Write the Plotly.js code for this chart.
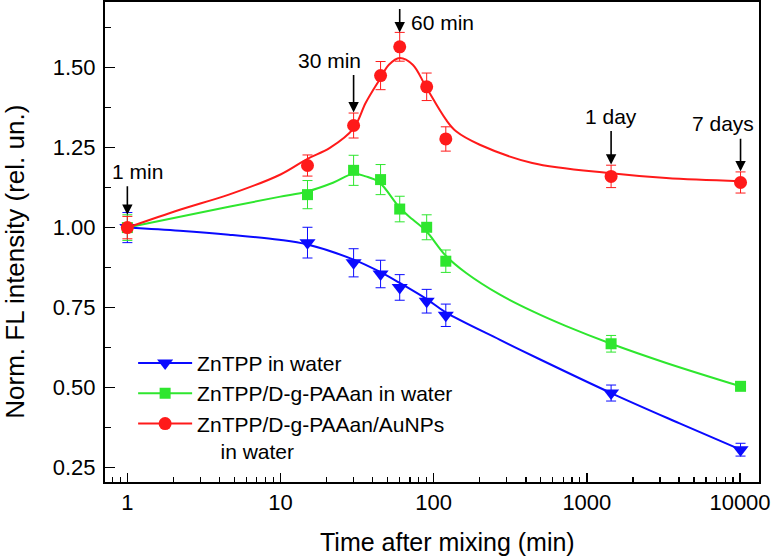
<!DOCTYPE html>
<html>
<head>
<meta charset="utf-8">
<script src="https://cdn.plot.ly/plotly-3.0.1.min.js"></script>
<style>
  html, body { margin: 0; padding: 0; background: #fff; }
  #chart { width: 774px; height: 559px; }
</style>
</head>
<body>
<div id="chart"></div>
<script>
// Measured points (time after mixing, min)
const times = [1, 15, 30, 45, 60, 90, 120, 1440, 10080];
const znWater = [1.00, 0.953, 0.890, 0.855, 0.813, 0.770, 0.726, 0.483, 0.306];
const znWaterErr = [0.047, 0.048, 0.044, 0.043, 0.040, 0.037, 0.035, 0.025, 0.020];
const znPaa = [1.00, 1.103, 1.179, 1.150, 1.058, 1.001, 0.895, 0.637, 0.504];
const znPaaErr = [0.040, 0.044, 0.047, 0.047, 0.040, 0.039, 0.035, 0.026, 0.010];
const znAu = [1.00, 1.194, 1.319, 1.475, 1.565, 1.440, 1.277, 1.160, 1.141];
const znAuErr = [0.035, 0.033, 0.039, 0.044, 0.045, 0.043, 0.038, 0.035, 0.033];

// Fitted curves
const fitWaterX = [1, 2.2, 4.6, 9.8, 15, 30, 44, 60, 91, 120, 269, 500, 1440, 4000, 10080];
const fitWaterY = [1.00, 0.990, 0.978, 0.962, 0.947, 0.900, 0.863, 0.827, 0.775, 0.735, 0.650, 0.587, 0.483, 0.389, 0.306];
const fitPaaX = [1, 4.6, 9.8, 15, 22, 30, 36, 44, 60, 73, 89, 120, 163, 269, 444, 733, 1440, 3300, 10080];
const fitPaaY = [1.00, 1.065, 1.096, 1.113, 1.140, 1.168, 1.160, 1.142, 1.062, 1.025, 0.990, 0.912, 0.858, 0.791, 0.738, 0.692, 0.637, 0.577, 0.504];
const fitAuX = [1, 2.2, 4.6, 10, 15, 21, 30, 36, 44, 51, 60, 73, 89, 120, 140, 200, 440, 1440, 3300, 10080];
const fitAuY = [1.00, 1.056, 1.103, 1.166, 1.215, 1.249, 1.310, 1.390, 1.460, 1.509, 1.530, 1.509, 1.440, 1.338, 1.301, 1.259, 1.202, 1.170, 1.155, 1.145];

const seriesNames = ['ZnTPP in water', 'ZnTPP/D-g-PAAan in water',
  'ZnTPP/D-g-PAAan/AuNPs<br>\u00a0\u00a0\u00a0 in water'];
const xTickVals = [1, 10, 100, 1000, 10000];
const xTickText = ['1', '10', '100', '1000', '10000'];

// Arrow labels: text, time, tip value, arrow length (px), text spot (log x, y)
const marks = [
  { text: '1 min', t: 1, tip: 1.04, len: 30, tx: 0.063, ty: 1.175 },
  { text: '30 min', t: 30, tip: 1.36, len: 39, tx: 1.318, ty: 1.522 },
  { text: '60 min', t: 60, tip: 1.61, len: 25, tx: 2.06, ty: 1.640 },
  { text: '1 day', t: 1440, tip: 1.197, len: 35, tx: 3.155, ty: 1.348 },
  { text: '7 days', t: 10080, tip: 1.176, len: 34, tx: 3.887, ty: 1.325 }
];

const FONT = 'Liberation Sans, Arial, Helvetica, sans-serif';
const BLUE = '#0a0aff';
const GREEN = '#2ee62e';
const RED = '#ff1a1a';

function fitTrace(x, y, color) {
    return { x, y, type: 'scatter', mode: 'lines', hoverinfo: 'skip',
        line: { color, width: 2, shape: 'spline', smoothing: 1 }, showlegend: false };
}

function pointTrace(y, err, color, symbol, size) {
    return {
        x: times, y, type: 'scatter', mode: 'markers', showlegend: false,
        marker: { color, symbol, size },
        error_y: { type: 'data', array: err, visible: true, color, thickness: 1, width: 5 }
    };
}

function legendTrace(name, color, symbol, size) {
    return { x: [null], y: [null], type: 'scatter', mode: 'lines+markers', name,
        line: { color, width: 2 }, marker: { color, symbol, size } };
}

const traces = [
    fitTrace(fitWaterX, fitWaterY, BLUE),
    pointTrace(znWater, znWaterErr, BLUE, 'triangle-down', 14),
    fitTrace(fitPaaX, fitPaaY, GREEN),
    pointTrace(znPaa, znPaaErr, GREEN, 'square', 11),
    fitTrace(fitAuX, fitAuY, RED),
    pointTrace(znAu, znAuErr, RED, 'circle', 13),
    legendTrace(seriesNames[0], BLUE, 'triangle-down', 14),
    legendTrace(seriesNames[1], GREEN, 'square', 11),
    legendTrace(seriesNames[2], RED, 'circle', 13)
];

// minor ticks for the log axis
const minorX = [];
for (let d = 0.1; d < 20000; d *= 10) {
    for (let k = 2; k <= 9; k++) minorX.push(d * k);
}

const annotations = [];
marks.forEach(m => {
    annotations.push({
        x: Math.log10(m.t), y: m.tip, xref: 'x', yref: 'y', text: '',
        showarrow: true, ax: 0, ay: -m.len, arrowhead: 2, arrowsize: 1.3,
        arrowwidth: 1.6, arrowcolor: '#000'
    });
    annotations.push({
        x: m.tx, y: m.ty, xref: 'x', yref: 'y', text: m.text, showarrow: false,
        font: { family: FONT, size: 21, color: '#000' }
    });
});

// axis titles (placed like the original figure)
annotations.push({
    xref: 'paper', yref: 'paper', x: 0.524, y: -0.124, xanchor: 'center', yanchor: 'middle',
    text: 'Time after mixing (min)', showarrow: false, font: { family: FONT, size: 25, color: '#000' }
});
annotations.push({
    xref: 'paper', yref: 'paper', x: -0.1376, y: 0.459, xanchor: 'center', yanchor: 'middle',
    textangle: -90, text: 'Norm. FL intensity (rel. un.)', showarrow: false,
    font: { family: FONT, size: 26, color: '#000' }
});

const layout = {
    width: 774,
    height: 559,
    margin: { l: 105, r: 15, t: 2, b: 77 },
    paper_bgcolor: '#fff',
    plot_bgcolor: '#fff',
    font: { family: FONT, size: 22, color: '#000' },
    showlegend: true,
    legend: {
        x: 0.043, y: 0.29, xanchor: 'left', yanchor: 'top',
        bgcolor: 'rgba(0,0,0,0)', font: { family: FONT, size: 21 },
        itemwidth: 54, valign: 'top'
    },
    xaxis: {
        type: 'log',
        range: [-0.146, 4.124],
        tickmode: 'array', tickvals: xTickVals, ticktext: xTickText,
        ticks: 'inside', ticklen: 9, tickwidth: 1.5, tickcolor: '#000',
        minor: { tickmode: 'array', tickvals: minorX, ticks: 'inside', ticklen: 5, tickwidth: 1.2, tickcolor: '#000' },
        showline: true, linewidth: 2, linecolor: '#000', mirror: true,
        showgrid: false, zeroline: false,
        tickfont: { size: 22 }
    },
    yaxis: {
        range: [0.205, 1.705],
        tick0: 0.25, dtick: 0.25, tickformat: '.2f',
        ticks: 'inside', ticklen: 10, tickwidth: 1.5, tickcolor: '#000',
        minor: { dtick: 0.125, ticks: 'inside', ticklen: 6, tickwidth: 1.2, tickcolor: '#000' },
        showline: true, linewidth: 2, linecolor: '#000', mirror: true,
        showgrid: false, zeroline: false,
        ticklabelstandoff: 3,
        tickfont: { size: 22 }
    },
    annotations
};

Plotly.newPlot('chart', traces, layout, { displayModeBar: false, staticPlot: true });
</script>
</body>
</html>
